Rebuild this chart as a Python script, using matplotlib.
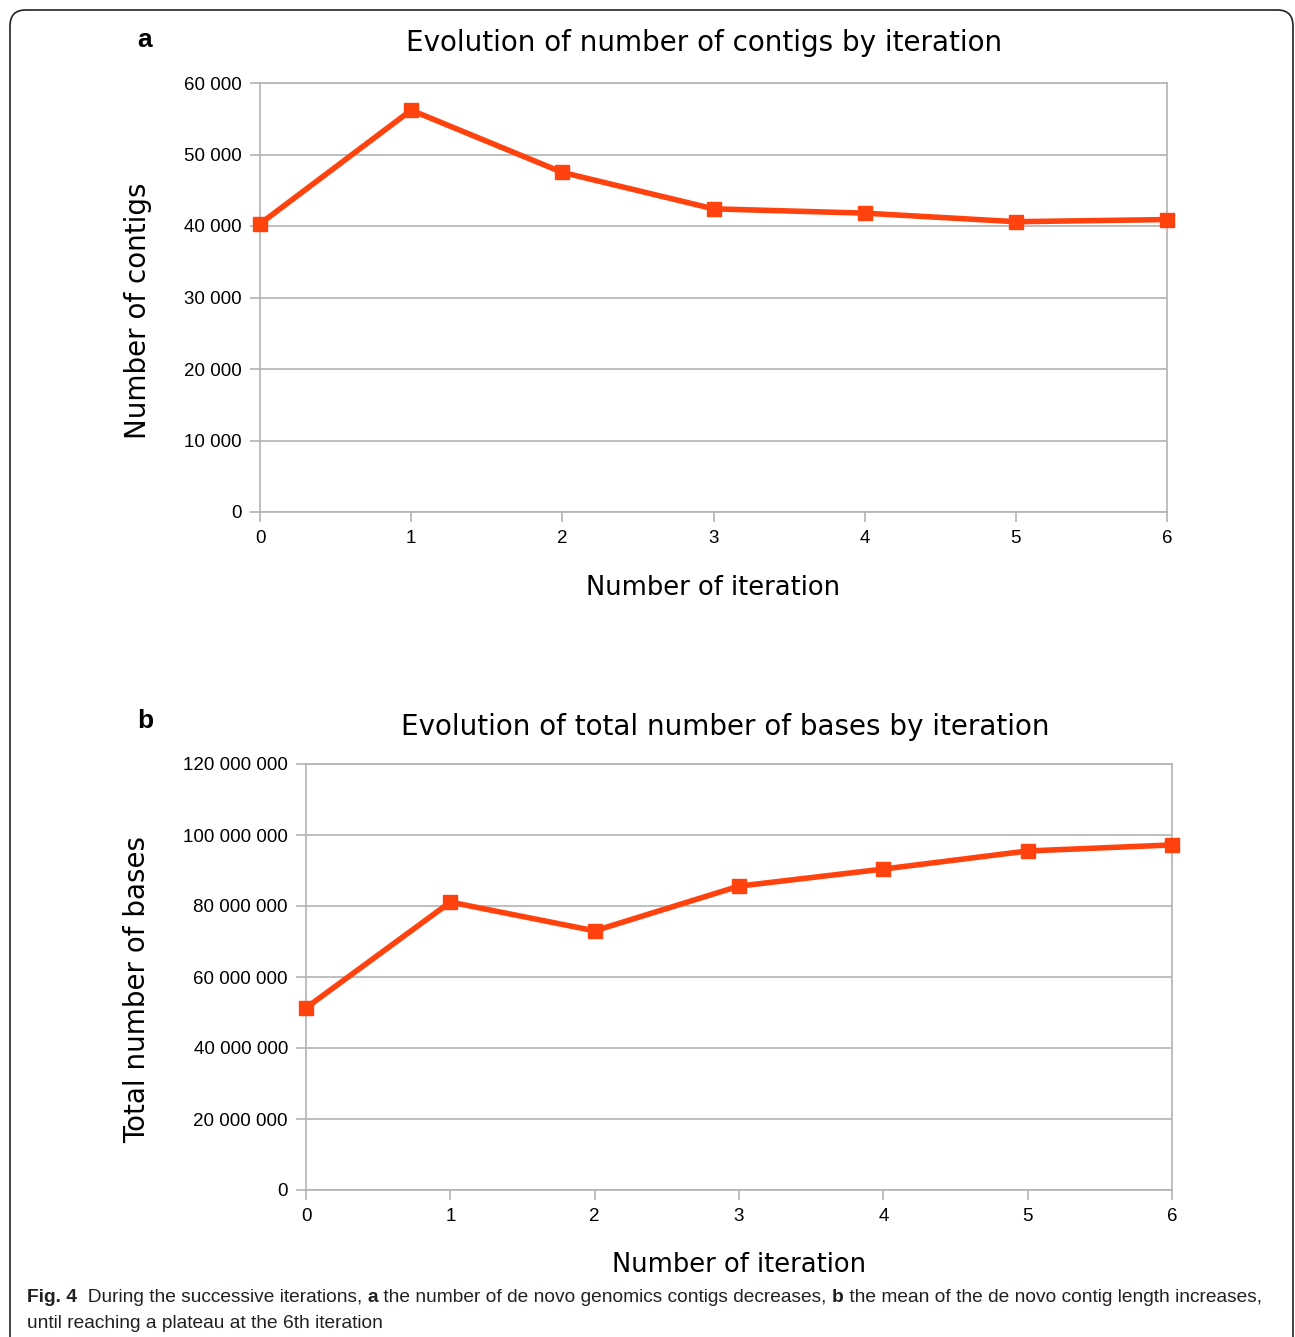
import matplotlib
matplotlib.use("Agg")
import matplotlib.pyplot as plt
from matplotlib.ticker import FuncFormatter, MultipleLocator
from matplotlib.patches import FancyBboxPatch

# data
iterations = [0, 1, 2, 3, 4, 5, 6]
contigs = [40300, 56200, 47500, 42400, 41800, 40600, 40900]
bases = [51300000, 81100000, 73000000, 85600000, 90400000, 95500000, 97200000]

line_color = '#ff420e'
grid_color = '#b3b3b3'


def space_thousands(v, pos):
    return f"{int(round(v)):,}".replace(",", " ")


fig = plt.figure(figsize=(12.95, 13.37), dpi=100)

# rounded frame around the figure
frame = FancyBboxPatch((10 / 1295, -0.05), 1283 / 1295, 1.05 - 10 / 1337,
                       boxstyle="round,pad=0,rounding_size=0.012",
                       transform=fig.transFigure, fill=False,
                       edgecolor='#222222', lw=1.2)
fig.patches.append(frame)


def panel(rect, y, ymax, ystep, title, title_x, ylabel, letter, letter_xy, title_pad,
          ylabel_x, ylabel_y, xlabel_y):
    ax = fig.add_axes(rect)
    ax.plot(iterations, y, '-s', color=line_color, lw=4, ms=10,
            mec=line_color, mfc=line_color, zorder=3, clip_on=False)
    ax.set_xlim(0, 6)
    ax.set_ylim(0, ymax)
    ax.yaxis.set_major_locator(MultipleLocator(ystep))
    ax.xaxis.set_major_locator(MultipleLocator(1))
    ax.yaxis.set_major_formatter(FuncFormatter(space_thousands))
    ax.grid(axis='y', color=grid_color, lw=1.2)
    ax.set_axisbelow(True)
    for s in ax.spines.values():
        s.set_color(grid_color)
        s.set_linewidth(1.2)
    ax.tick_params(axis='both', color=grid_color, length=7, width=1.2,
                   labelsize=13.5, pad=6)
    for lab in ax.get_xticklabels() + ax.get_yticklabels():
        lab.set_fontfamily('Liberation Sans')
    ax.set_title(title, fontsize=20, pad=title_pad, x=title_x)
    ax.set_ylabel(ylabel, fontsize=20)
    ax.yaxis.label.set_va('center')
    ax.yaxis.set_label_coords(ylabel_x, ylabel_y)
    ax.set_xlabel("Number of iteration", fontsize=18.5)
    ax.xaxis.label.set_va('center')
    ax.xaxis.set_label_coords(0.5, xlabel_y)
    fig.text(letter_xy[0] / 1295, 1 - letter_xy[1] / 1337, letter,
             fontsize=19, fontweight='bold', ha='center', va='center',
             family='Liberation Sans')
    return ax


ax_a = panel([260 / 1295, 1 - 512 / 1337, 907 / 1295, 429 / 1337],
             contigs, 60000, 10000,
             "Evolution of number of contigs by iteration", 0.49,
             "Number of contigs", 'a', (145, 40), 23,
             -122 / 907, 0.47, -76 / 429)

ax_b = panel([306 / 1295, 1 - 1190 / 1337, 866 / 1295, 426 / 1337],
             bases, 120000000, 20000000,
             "Evolution of total number of bases by iteration", 0.484,
             "Total number of bases", 'b', (145, 721), 21,
             -169 / 866, 0.47, -75 / 426)

# caption with bold pieces, laid out piece by piece, sized to the frame width
fig.canvas.draw()
renderer = fig.canvas.get_renderer()
cap_font = 'Liberation Sans'
pieces = [("Fig. 4", 'bold'), ("  During the successive iterations, ", 'normal'),
          ("a", 'bold'), (" the number of de novo genomics contigs decreases, ", 'normal'),
          ("b", 'bold'), (" the mean of the de novo contig length increases,", 'normal')]


def lay_caption(size, draw):
    x = 27
    y = 1 - 1297 / 1337
    made = []
    for txt, w in pieces:
        t = fig.text(x / 1295, y, txt, fontsize=size, fontweight=w, family=cap_font,
                     va='center', ha='left', color='#231f20')
        x += t.get_window_extent(renderer).width
        made.append(t)
    if not draw:
        for t in made:
            t.remove()
    return x


cap_size = 14.5
end = lay_caption(cap_size, False)
cap_size = cap_size * (1267 - 27) / (end - 27)
lay_caption(cap_size, True)
fig.text(27 / 1295, 1 - 1324 / 1337, "until reaching a plateau at the 6th iteration",
         fontsize=cap_size, family=cap_font, va='center', ha='left', color='#231f20')

fig.savefig('out.png', dpi=100)
